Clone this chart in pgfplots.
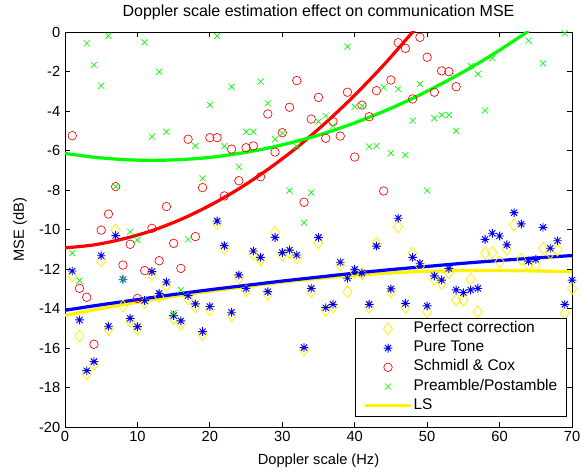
\documentclass[border=0pt]{standalone}
\usepackage{fontspec}
\setmainfont{Liberation Sans}
\usepackage{pgfplots}
\pgfplotsset{compat=1.18}
\usepackage{pgfplotstable}

% eight-armed asterisk marker
\pgfdeclareplotmark{mstar}{%
  \pgfpathmoveto{\pgfqpoint{0pt}{\pgfplotmarksize}}%
  \pgfpathlineto{\pgfqpoint{0pt}{-\pgfplotmarksize}}%
  \pgfpathmoveto{\pgfqpoint{\pgfplotmarksize}{0pt}}%
  \pgfpathlineto{\pgfqpoint{-\pgfplotmarksize}{0pt}}%
  \pgfpathmoveto{\pgfqpoint{.7\pgfplotmarksize}{.7\pgfplotmarksize}}%
  \pgfpathlineto{\pgfqpoint{-.7\pgfplotmarksize}{-.7\pgfplotmarksize}}%
  \pgfpathmoveto{\pgfqpoint{.7\pgfplotmarksize}{-.7\pgfplotmarksize}}%
  \pgfpathlineto{\pgfqpoint{-.7\pgfplotmarksize}{.7\pgfplotmarksize}}%
  \pgfusepathqstroke}

% Perfect correction
\pgfplotstableread{
x y
1 -12.35
2 -15.39
3 -17.30
4 -16.85
5 -11.60
6 -15.05
7 -10.03
8 -13.87
9 -14.65
10 -15.05
11 -13.70
12 -12.30
13 -13.40
14 -12.86
15 -14.50
16 -14.80
17 -13.50
18 -13.92
19 -15.32
20 -14.05
21 -9.70
22 -10.95
23 -14.35
24 -12.45
25 -13.10
26 -11.25
27 -11.55
28 -13.30
29 -10.16
30 -11.30
31 -11.17
32 -11.42
33 -16.10
34 -13.15
35 -10.67
36 -14.10
37 -13.93
38 -11.80
39 -13.15
40 -12.15
41 -12.25
42 -13.93
43 -10.70
44 -15.30
45 -13.15
46 -9.86
47 -13.95
48 -11.20
49 -11.85
50 -14.16
51 -12.52
52 -12.73
53 -12.19
54 -13.57
55 -13.57
56 -12.52
57 -14.16
58 -11.20
59 -11.17
60 -11.63
61 -11.00
62 -9.77
63 -11.51
64 -11.80
65 -11.80
66 -10.95
67 -11.20
68 -11.04
69 -14.24
70 -12.98
}\perfect

% Pure Tone
\pgfplotstableread{
x y
1 -12.10
2 -14.58
3 -17.15
4 -16.69
5 -11.33
6 -14.90
7 -10.31
8 -12.52
9 -14.50
10 -14.92
11 -13.60
12 -12.13
13 -13.23
14 -12.66
15 -14.36
16 -14.63
17 -13.35
18 -13.77
19 -15.17
20 -13.90
21 -9.57
22 -10.82
23 -14.19
24 -12.30
25 -12.98
26 -11.09
27 -11.41
28 -13.15
29 -10.40
30 -11.17
31 -11.04
32 -11.29
33 -15.98
34 -12.98
35 -10.40
36 -13.96
37 -13.79
38 -11.66
39 -12.47
40 -12.02
41 -12.20
42 -13.79
43 -10.84
44 -15.20
45 -13.01
46 -9.43
47 -13.74
48 -11.41
49 -11.71
50 -13.87
51 -12.35
52 -12.56
53 -11.97
54 -13.06
55 -13.20
56 -13.06
57 -12.98
58 -10.50
59 -10.19
60 -10.33
61 -10.78
62 -9.15
63 -9.72
64 -11.60
65 -11.51
66 -9.89
67 -10.95
68 -10.57
69 -13.79
70 -12.56
}\puretone

% Schmidl & Cox
\pgfplotstableread{
x y
1 -5.25
2 -12.98
3 -13.43
4 -15.81
5 -10.03
6 -9.22
7 -7.83
8 -11.80
9 -10.75
10 -13.49
11 -12.08
12 -9.94
13 -11.58
14 -8.84
15 -10.70
16 -11.97
17 -5.43
18 -10.36
19 -7.88
20 -5.35
21 -5.35
22 -8.30
23 -5.93
24 -7.53
25 -5.86
26 -5.77
27 -7.33
28 -4.15
29 -6.08
30 -5.10
31 -3.81
32 -2.46
33 -8.62
34 -4.41
35 -3.31
36 -5.38
37 -4.54
38 -5.27
39 -3.05
40 -6.33
41 -3.70
42 -4.29
43 -2.97
44 -8.05
45 -2.43
46 -0.54
47 -0.83
48 -3.39
49 -0.27
50 -1.28
51 -3.05
52 -1.97
53 -2.01
54 -2.77
}\schmidl

% Preamble/Postamble
\pgfplotstableread{
x y
1 -11.20
2 -12.59
3 -0.57
4 -1.67
5 -2.72
6 -0.19
7 -7.83
8 -12.52
9 -10.11
10 -10.53
11 -0.52
12 -5.30
13 -2.01
14 -5.05
15 -14.24
16 -13.06
17 -10.50
18 -5.77
19 -7.41
20 -3.70
21 -0.20
22 -5.77
23 -2.77
24 -6.82
25 -5.05
26 -5.05
27 -2.51
28 -3.61
29 -5.43
30 -5.13
31 -8.03
32 -5.80
33 -9.65
34 -8.13
35 -4.54
36 -4.24
37 -4.76
39 -0.74
40 -3.78
41 -3.75
42 -5.80
43 -5.77
44 -2.80
45 -6.14
46 -2.89
47 -6.23
48 -4.49
49 -2.63
50 -8.03
51 -4.37
52 -4.20
53 -4.20
54 -5.00
56 -1.72
57 -2.13
58 -3.98
59 -1.33
64 -0.44
66 -1.59
69 -0.07
}\preamble

% least-squares trend curves
\pgfplotstableread{
x y
0 -14.35
5 -14.00
10 -13.68
15 -13.39
20 -13.13
25 -12.89
30 -12.67
35 -12.48
40 -12.32
45 -12.20
50 -12.12
55 -12.08
60 -12.08
65 -12.10
70 -12.14
}\fitperfect

\pgfplotstableread{
x y
0 -14.09
5 -13.81
10 -13.55
15 -13.29
20 -13.05
25 -12.83
30 -12.61
35 -12.41
40 -12.21
45 -12.03
50 -11.87
55 -11.71
60 -11.57
65 -11.44
70 -11.32
}\fittone

\pgfplotstableread{
x y
0 -10.93
4 -10.78
8 -10.48
12 -10.06
16 -9.49
20 -8.78
24 -7.94
28 -6.96
32 -5.85
36 -4.59
40 -3.20
44 -1.67
48 0.00
49 0.44
}\fitschmidl

\pgfplotstableread{
x y
0 -6.15
4 -6.34
8 -6.46
12 -6.50
16 -6.46
20 -6.35
24 -6.15
28 -5.88
32 -5.53
36 -5.11
40 -4.60
44 -4.02
48 -3.36
52 -2.62
56 -1.81
60 -0.92
64 0.05
}\fitpreamble

\begin{document}
\begin{tikzpicture}
\useasboundingbox (-48.75pt,-32.25pt) rectangle (387.75pt,320.25pt);
\begin{axis}[
  scale only axis,
  width=380.25pt, height=296.25pt,
  xmin=0, xmax=70, ymin=-20, ymax=0,
  xtick={0,10,...,70}, ytick={-20,-18,...,0},
  tick align=inside, major tick length=3.5pt,
  axis line style={line width=0.6pt},
  every tick/.style={black, line width=0.6pt},
  font=\fontsize{11}{13}\selectfont,
  ticklabel style={font=\fontsize{11}{13}\selectfont},
  /pgf/number format/assume math mode=true,
  title={Doppler scale estimation effect on communication MSE},
  every axis title shift=0pt,
  title style={at={(axis description cs:0.5,1.038)}, anchor=base,
    font=\fontsize{12}{14}\selectfont},
  xlabel={Doppler scale (Hz)},
  xlabel style={at={(axis description cs:0.5,-0.0945)}, anchor=base},
  ylabel={MSE (dB)},
  ylabel style={at={(axis description cs:-0.081,0.5)}, anchor=base},
  legend image code/.code={\draw[mark repeat=2,mark phase=2,#1] plot coordinates {(0pt,0pt) (17pt,0pt) (34pt,0pt)};},
  legend style={at={(0.99,0.025)}, anchor=south east, draw=black, line width=0.6pt,
    fill=white, font=\fontsize{11.6}{13}\selectfont, inner xsep=6pt, inner ysep=2pt,
    row sep=1.9pt,
    nodes={inner sep=1pt, text height=8pt, text depth=2.5pt},
    cells={anchor=west}},
]
\addplot[only marks, mark=diamond, mark size=4.5pt, color=yellow,
  mark options={line width=0.6pt}] table {\perfect};
\addlegendentry{Perfect correction}
\addplot[only marks, mark=mstar, mark size=3.3pt, color=blue,
  mark options={line width=0.7pt}] table {\puretone};
\addlegendentry{Pure Tone}
\addplot[only marks, mark=o, mark size=3.2pt, color=red,
  mark options={line width=0.5pt}] table {\schmidl};
\addlegendentry{Schmidl \& Cox}
\addplot[only marks, mark=x, mark size=3.2pt, color=green,
  mark options={line width=0.5pt}] table {\preamble};
\addlegendentry{Preamble/Postamble}
\addplot[yellow, line width=2.4pt, smooth, mark=none] table {\fitperfect};
\addlegendentry{LS}
\addplot[blue, line width=2.4pt, smooth, mark=none, forget plot] table {\fittone};
\addplot[red, line width=2.4pt, smooth, mark=none, forget plot] table {\fitschmidl};
\addplot[green, line width=2.4pt, smooth, mark=none, forget plot] table {\fitpreamble};
\end{axis}
\end{tikzpicture}
\end{document}
